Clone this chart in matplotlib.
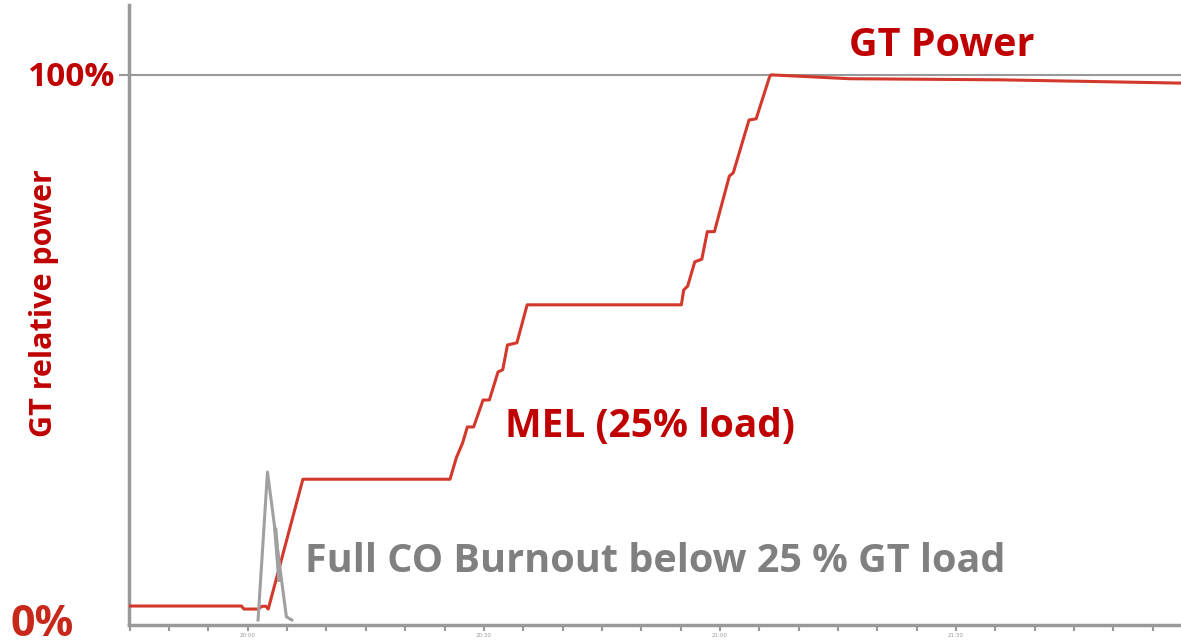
import numpy as np
import matplotlib.pyplot as plt
from matplotlib.ticker import MultipleLocator, FuncFormatter

# time in minutes after 20:00, power in % of GT rated power
power_t = [-15.1, -0.8, -0.5, 1.3, 1.8, 2.3, 2.6, 7.0, 25.7, 26.5, 27.3, 27.9, 28.7,
           29.9, 30.7, 31.8, 32.4, 33.0, 34.2, 35.5, 55.1, 55.4, 55.9, 56.8, 57.7,
           58.4, 59.3, 61.2, 61.7, 63.7, 64.6, 66.3, 66.5, 76.5, 95.6, 118.6]
power_y = [3.45, 3.45, 2.9, 2.9, 3.4, 3.4, 2.9, 26.5, 26.5, 30.4, 33.1, 36.0, 36.0,
           40.9, 40.9, 46.0, 46.4, 50.9, 51.3, 58.2, 58.2, 60.9, 61.6, 66.0, 66.5,
           71.5, 71.5, 81.6, 82.2, 91.8, 92.0, 99.6, 100.0, 99.3, 99.1, 98.5]

# CO signal trace (grey)
co_t = [1.3, 2.5, 4.9, 5.6]
co_y = [0.9, 27.8, 1.5, 0.9]
co2_t = [3.5, 4.0]
co2_y = [17.3, 8.2]

red = '#c00000'
line_red = '#d3382c'
grey = '#808080'

fig = plt.figure(figsize=(11.81, 6.44), dpi=100)
ax = fig.add_axes([129/1181, 19/644, 1 - 129/1181, 1 - 24/644])

ax.plot(power_t, power_y, color=line_red, lw=2.2, zorder=3)
ax.plot(co_t, co_y, color='#a0a0a0', lw=2.2, zorder=4)
ax.plot(co2_t, co2_y, color='#a0a0a0', lw=3, zorder=4)

ax.set_xlim(-15.1, 118.6)
ax.set_ylim(0, 112.7)

# 100% reference line, reaching a bit left of the axis
ax.plot([-16.3, 118.6], [100, 100], color='#999999', lw=1.5, clip_on=False, zorder=2)

for side in ['top', 'right']:
    ax.spines[side].set_visible(False)
for side in ['left', 'bottom']:
    ax.spines[side].set_color('#999999')
    ax.spines[side].set_linewidth(2.5)

ax.set_yticks([])
ax.xaxis.set_major_locator(MultipleLocator(30))
ax.xaxis.set_minor_locator(MultipleLocator(5))
ax.xaxis.set_major_formatter(FuncFormatter(
    lambda v, p: f'{20 + int(v) // 60}:{int(v) % 60:02d}'))
ax.tick_params(axis='x', which='both', direction='out', length=4, width=1.5,
               color='#999999', labelsize=4, labelcolor='#999999', pad=2)

fig.text(115/1181, 1 - 77/644, '100%', color=red, fontsize=24, fontweight='bold',
         family='Open Sans', ha='right', va='center')
fig.text(42/1181, 1 - 624/644, '0%', color='#c8281a', fontsize=31, fontweight='bold',
         family='Open Sans', ha='center', va='center')
fig.text(44/1181, 1 - 303/644, 'GT relative power', color=red, fontsize=22,
         fontweight='bold', family='Open Sans', rotation=90, ha='center', va='center')

ax.text(942/1181, 1 - 45/644, 'GT Power', color=red, fontsize=28.5, fontweight='bold',
        family='Open Sans', ha='center', va='center', transform=fig.transFigure)
ax.text(650/1181, 1 - 427/644, 'MEL (25% load)', color=red, fontsize=28,
        fontweight='bold', family='Open Sans', ha='center', va='center',
        transform=fig.transFigure)
ax.text(655/1181, 1 - 562/644, 'Full CO Burnout below 25 % GT load', color=grey,
        fontsize=28.5, fontweight='bold', family='Open Sans', ha='center', va='center',
        transform=fig.transFigure)

fig.savefig('out.png', dpi=100)
